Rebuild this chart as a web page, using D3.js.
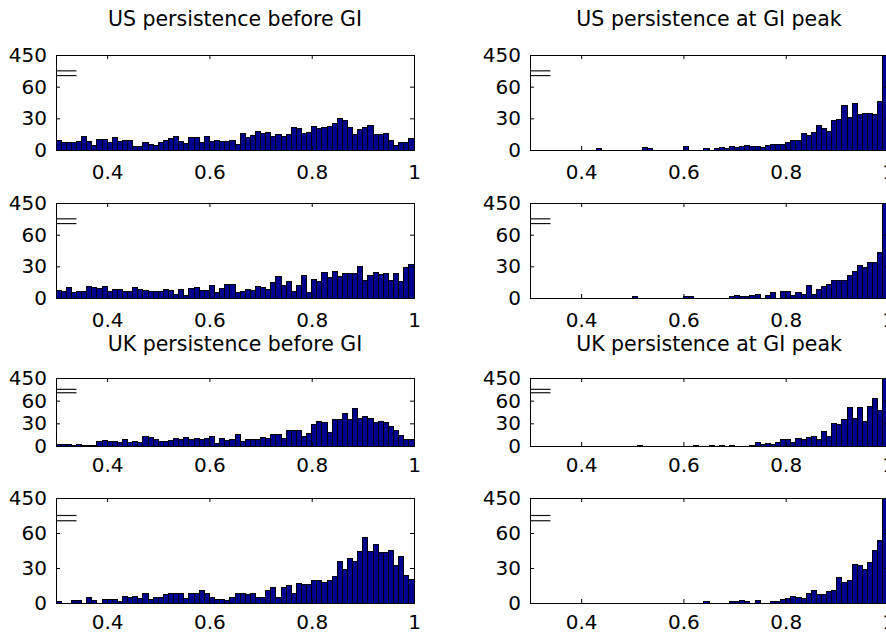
<!DOCTYPE html>
<html>
<head>
<meta charset="utf-8">
<script src="https://cdn.jsdelivr.net/npm/d3@7"></script>
<style>
  body { margin: 0; background: #fff; }
  svg { display: block; font-family: "DejaVu Sans", sans-serif; }
</style>
</head>
<body>
<div id="chart-area"></div>
<script>
// histogram bins: 70 bins of width 0.01 starting at 0.30
const binStart = 0.30;
const binWidth = 0.01;
const xTicks = [0.4, 0.6, 0.8, 1];
const yTicks = [0, 30, 60, 450];

// counts per bin
const usBeforeA = [9,7,7,7,8,13,8,4,10,10, 7,12,8,9,9,3,3,7,5,4, 7,9,11,13,8,6,12,12,7,13,
  8,9,8,8,9,5,16,12,14,18, 16,17,13,15,13,15,21,20,16,17, 22,20,21,22,25,30,28,21,15,19,
  21,23,15,15,16,9,4,7,7,11];
const usPeakA = [0,0,0,0,0,0,0,0,0,0, 0,0,0,1,0,0,0,0,0,0, 0,0,2,1,0,0,0,0,0,0,
  3,0,0,0,1,0,1,2,1,3, 2,3,4,3,3,2,4,5,5,5, 7,9,9,16,14,17,23,20,18,28,
  29,42,31,44,34,35,35,34,46,450];
const usBeforeB = [7,6,10,5,6,6,11,10,9,11, 6,8,8,6,6,10,8,7,6,6, 6,8,7,3,8,2,9,10,7,7,
  12,5,9,13,13,5,6,8,7,11, 10,8,15,20,12,16,6,12,21,5, 18,16,24,19,25,20,23,23,23,30,
  17,21,24,22,23,17,23,16,29,32];
const usPeakB = [0,0,0,0,0,0,0,0,0,0, 0,0,0,0,0,0,0,0,0,0, 1,0,0,0,0,0,0,0,0,0,
  1,1,0,0,0,0,0,0,0,1, 2,1,1,2,3,0,2,5,0,6, 6,2,5,3,12,3,8,11,13,17,
  17,17,21,25,31,29,34,34,43,450];
const ukBeforeA = [2,2,2,1,2,1,1,1,6,7, 6,6,4,8,4,6,4,12,11,8, 6,6,7,10,8,11,9,10,9,10,
  13,3,10,7,9,15,6,9,9,9, 11,10,15,15,10,20,21,20,12,17, 28,32,31,18,35,35,43,35,50,37,
  39,37,31,33,31,26,21,14,9,8];
const ukPeakA = [0,0,0,0,0,0,0,0,0,0, 0,0,0,0,0,0,0,0,0,0, 0,1,0,0,0,0,0,0,0,0,
  0,0,1,0,0,1,0,1,0,1, 0,0,0,1,5,2,3,2,5,9, 8,5,10,9,11,12,9,19,13,30,
  29,35,51,36,51,32,52,63,47,450];
const ukBeforeB = [1,0,0,2,2,0,5,2,0,3, 3,3,1,6,5,6,4,8,3,5, 5,7,8,8,8,4,8,8,11,8,
  5,3,3,2,5,8,8,7,8,5, 5,11,13,5,13,15,8,17,16,16, 19,19,18,19,23,36,29,38,36,44,
  56,44,50,43,43,45,32,40,24,20];
const ukPeakB = [0,0,0,0,0,0,0,0,0,0, 0,0,0,0,0,0,0,0,0,0, 0,0,0,0,0,0,0,0,0,0,
  0,0,0,0,1,0,0,0,0,1, 1,2,1,0,2,0,0,1,1,3, 4,6,5,4,8,11,7,7,10,11,
  22,18,19,33,32,29,35,45,54,450];

const titles = ['US persistence before GI', 'US persistence at GI peak',
  'UK persistence before GI', 'UK persistence at GI peak'];

const width = 886, height = 639;
const svg = d3.select('#chart-area').append('svg')
  .attr('width', width).attr('height', height);

// layout of the 4x2 grid (pixels)
const colLeft = [56, 530];
const axW = 358;
const rows = [
  { top: 55, bottom: 150, pad: 15 },
  { top: 203, bottom: 298, pad: 15 },
  { top: 378, bottom: 446, pad: 12 },
  { top: 498, bottom: 603, pad: 12 }
];

const panels = [
  { row: 0, col: 0, counts: usBeforeA, title: titles[0] },
  { row: 0, col: 1, counts: usPeakA, title: titles[1] },
  { row: 1, col: 0, counts: usBeforeB },
  { row: 1, col: 1, counts: usPeakB },
  { row: 2, col: 0, counts: ukBeforeA, title: titles[2] },
  { row: 2, col: 1, counts: ukPeakA, title: titles[3] },
  { row: 3, col: 0, counts: ukBeforeB },
  { row: 3, col: 1, counts: ukPeakB }
];

const fmtX = d3.format('~g');

panels.forEach((p, k) => {
  const r = rows[p.row];
  const left = colLeft[p.col];
  const h = r.bottom - r.top;

  const x = d3.scaleLinear().domain([0.3, 1]).range([left, left + axW]);
  // broken axis: 0..75 linear, 75..450 squeezed into the top strip
  const y = d3.scaleLinear().domain([0, 75, 450])
    .range([r.bottom, r.bottom - h * 75 / 90, r.top]);

  const g = svg.append('g');

  svg.append('clipPath').attr('id', 'clip' + k)
    .append('rect')
    .attr('x', left).attr('y', r.top)
    .attr('width', axW).attr('height', h);

  const data = p.counts.map((v, i) => ({ x0: binStart + i * binWidth, v: v }))
    .filter(d => d.v > 0);

  g.append('g').attr('clip-path', `url(#clip${k})`)
    .selectAll('rect')
    .data(data)
    .enter()
    .append('rect')
    .attr('x', d => x(d.x0))
    .attr('width', d => x(d.x0 + binWidth) - x(d.x0))
    .attr('y', d => y(Math.min(d.v, 450)))
    .attr('height', d => y(0) - y(Math.min(d.v, 450)))
    .attr('fill', '#00008f')
    .attr('stroke', '#000')
    .attr('stroke-width', 1)
    .attr('shape-rendering', 'crispEdges');

  // axes, ticks pointing inward
  const bottomAx = g.append('g')
    .attr('transform', `translate(0,${r.bottom})`)
    .call(d3.axisBottom(x).tickValues(xTicks).tickFormat(fmtX)
      .tickSizeInner(-4).tickSizeOuter(0).tickPadding(r.pad));
  const topAx = g.append('g')
    .attr('transform', `translate(0,${r.top})`)
    .call(d3.axisTop(x).tickValues(xTicks).tickFormat('')
      .tickSizeInner(-4).tickSizeOuter(0));
  const leftAx = g.append('g')
    .attr('transform', `translate(${left},0)`)
    .call(d3.axisLeft(y).tickValues(yTicks).tickFormat(d3.format('d'))
      .tickSizeInner(-4).tickSizeOuter(0).tickPadding(9));
  const rightAx = g.append('g')
    .attr('transform', `translate(${left + axW},0)`)
    .call(d3.axisRight(y).tickValues(yTicks).tickFormat('')
      .tickSizeInner(-4).tickSizeOuter(0));

  [bottomAx, topAx, leftAx, rightAx].forEach(a => {
    a.select('.domain').remove();
    a.selectAll('line').attr('stroke', '#000');
    a.selectAll('text')
      .attr('fill', '#000')
      .attr('font-size', '20px')
      .attr('font-family', '"DejaVu Sans", sans-serif');
  });

  // axes box
  g.append('rect')
    .attr('x', left).attr('y', r.top)
    .attr('width', axW).attr('height', h)
    .attr('fill', 'none')
    .attr('stroke', '#000')
    .attr('stroke-width', 1)
    .attr('shape-rendering', 'crispEdges');

  // the "=" break mark
  [70.5, 75].forEach(v => {
    g.append('line')
      .attr('x1', x(0.3)).attr('x2', x(0.34))
      .attr('y1', y(v)).attr('y2', y(v))
      .attr('stroke', '#111')
      .attr('stroke-width', 1.2);
  });

  if (p.title) {
    svg.append('text')
      .attr('x', left + axW / 2)
      .attr('y', p.row === 0 ? 26 : 351)
      .attr('text-anchor', 'middle')
      .attr('font-size', '20.5px')
      .attr('fill', '#000')
      .text(p.title);
  }
});
</script>
</body>
</html>
